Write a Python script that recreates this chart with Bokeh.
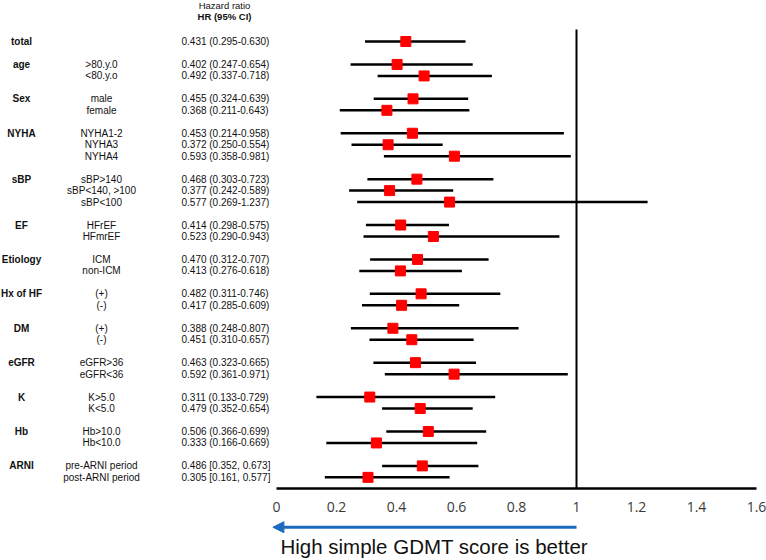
from bokeh.plotting import figure
from bokeh.layouts import column
from bokeh.models import (ColumnDataSource, Range1d, FixedTicker, Arrow, NormalHead)
from bokeh.core.properties import value
from bokeh.embed import file_html
from bokeh.resources import INLINE

# ---------------- data ----------------
groups = ["total", "age", "Sex", "NYHA", "sBP", "EF", "Etiology", "Hx of HF",
          "DM", "eGFR", "K", "Hb", "ARNI"]
subgroups = [
    [""],
    [">80.y.0", "<80.y.o"],
    ["male", "female"],
    ["NYHA1-2", "NYHA3", "NYHA4"],
    ["sBP>140", "sBP<140, >100", "sBP<100"],
    ["HFrEF", "HFmrEF"],
    ["ICM", "non-ICM"],
    ["(+)", "(-)"],
    ["(+)", "(-)"],
    ["eGFR>36", "eGFR<36"],
    ["K>5.0", "K<5.0"],
    ["Hb>10.0", "Hb<10.0"],
    ["pre-ARNI period", "post-ARNI period"],
]
hr = [[0.431], [0.402, 0.492], [0.455, 0.368], [0.453, 0.372, 0.593],
      [0.468, 0.377, 0.577], [0.414, 0.523], [0.470, 0.413], [0.482, 0.417],
      [0.388, 0.451], [0.463, 0.592], [0.311, 0.479], [0.506, 0.333],
      [0.486, 0.305]]
lo = [[0.295], [0.247, 0.337], [0.324, 0.211], [0.214, 0.250, 0.358],
      [0.303, 0.242, 0.269], [0.298, 0.290], [0.312, 0.276], [0.311, 0.285],
      [0.248, 0.310], [0.323, 0.361], [0.133, 0.352], [0.366, 0.166],
      [0.352, 0.161]]
hi = [[0.630], [0.654, 0.718], [0.639, 0.643], [0.958, 0.554, 0.981],
      [0.723, 0.589, 1.237], [0.575, 0.943], [0.707, 0.618], [0.746, 0.609],
      [0.807, 0.657], [0.665, 0.971], [0.729, 0.654], [0.699, 0.669],
      [0.673, 0.577]]
bracket_groups = ["ARNI"]
ticks = [0, 0.2, 0.4, 0.6, 0.8, 1, 1.2, 1.4, 1.6]
tick_labels = ["0", "0.2", "0.4", "0.6", "0.8", "1", "1.2", "1.4", "1.6"]
ref_value = 1
header_1 = "Hazard ratio"
header_2 = "HR (95% CI)"
caption = "High simple GDMT score is better"

# ---------------- layout rows ----------------
rows, sub_l, hr_v, lo_v, hi_v, ci_txt = [], [], [], [], [], []
g_rows, g_txt = [], []
r = 0
for g, subs, h_, l_, u_ in zip(groups, subgroups, hr, lo, hi):
    g_rows.append(r)
    g_txt.append(g)
    for s, a, b, c in zip(subs, h_, l_, u_):
        rows.append(r)
        sub_l.append(s)
        hr_v.append(a)
        lo_v.append(b)
        hi_v.append(c)
        if g in bracket_groups:
            ci_txt.append(f"{a:.3f} [{b:.3f}, {c:.3f}]")
        else:
            ci_txt.append(f"{a:.3f} ({b:.3f}-{c:.3f})")
        r += 1
    r += 1

src = ColumnDataSource(dict(y=rows, sub=sub_l, hr=hr_v, lo=lo_v, hi=hi_v, ci=ci_txt))
gsrc = ColumnDataSource(dict(y=g_rows, g=g_txt))

W = 766
H1, H2 = 516, 42
px_per_unit = 300.0
x0_px = 276.0   # px of x=0 inside figure
x_range = Range1d(-x0_px / px_per_unit, (W - x0_px) / px_per_unit)

row_px = 11.47
top_px = 41.0      # px of row 0 inside figure
frame_h = 488
y_top = -top_px / row_px
y_bot = (frame_h - top_px) / row_px

p = figure(width=W, height=H1, output_backend="svg", toolbar_location=None,
           x_range=x_range, y_range=Range1d(y_bot, y_top),
           min_border_left=0, min_border_right=0, min_border_top=0,
           min_border_bottom=H1 - frame_h)
p.outline_line_color = None
p.grid.visible = False
p.yaxis.visible = False

ax = p.xaxis[0]
ax.ticker = FixedTicker(ticks=ticks)
ax.major_label_overrides = {t: l for t, l in zip(ticks, tick_labels)}
ax.bounds = (ticks[0], ticks[-1])
ax.axis_line_color = "black"
ax.axis_line_width = 2.5
ax.major_tick_line_color = None
ax.minor_tick_line_color = None
ax.major_label_text_font = "Open Sans"
ax.major_label_text_font_size = "14px"
ax.major_label_text_color = "#3a3a3a"
ax.major_label_standoff = 7

# reference line
p.segment(x0=[ref_value], x1=[ref_value], y0=[-1.05], y1=[y_bot + 1],
          line_color="black", line_width=2)

# CIs and points
p.segment(x0="lo", x1="hi", y0="y", y1="y", source=src, line_color="black", line_width=2.5)
p.scatter(x="hr", y="y", source=src, marker="square", size=10,
          fill_color="#ff0000", line_color="#ff0000")

# text columns
font = value("Liberation Sans")
p.text(x=-0.85, y="y", text="g", source=gsrc, text_font=font,
       text_font_size="10px", text_font_style="bold", text_align="center",
       text_baseline="middle", text_color="#111111")
p.text(x=-0.5833, y="y", text="sub", source=src, text_font=font,
       text_font_size="10px", text_align="center", text_baseline="middle",
       text_color="#111111")
p.text(x=-0.3167, y="y", text="ci", source=src, text_font=font,
       text_font_size="10px", text_align="left", text_baseline="middle",
       text_color="#111111")
p.text(x=[-0.1733], y=[-3.1], text=[header_1], text_font=font, text_font_size="9.5px",
       text_align="center", text_baseline="middle", text_color="#111111")
p.text(x=[-0.1733], y=[-2.14], text=[header_2], text_font=font, text_font_size="9.5px",
       text_font_style="bold", text_align="center", text_baseline="middle",
       text_color="#111111")

# ---------------- arrow + caption strip ----------------
q = figure(width=W, height=H2, output_backend="svg", toolbar_location=None,
           x_range=x_range, y_range=Range1d(0, H2),
           min_border_left=0, min_border_right=0, min_border_top=0, min_border_bottom=0)
q.outline_line_color = None
q.grid.visible = False
q.axis.visible = False
q.add_layout(Arrow(x_start=ref_value, y_start=H2 - 10.7, x_end=-0.012, y_end=H2 - 10.7,
                   line_color="#1b6ac0", line_width=3,
                   end=NormalHead(size=11, fill_color="#1b6ac0", line_color="#1b6ac0")))
q.text(x=[0.013], y=[H2 - 29.5], text=[caption], text_font=font,
       text_font_size="20.5px", text_color="#111111", text_baseline="middle",
       text_align="left")

layout = column(p, q, spacing=0)
open("out.html", "w").write(file_html(layout, INLINE))
